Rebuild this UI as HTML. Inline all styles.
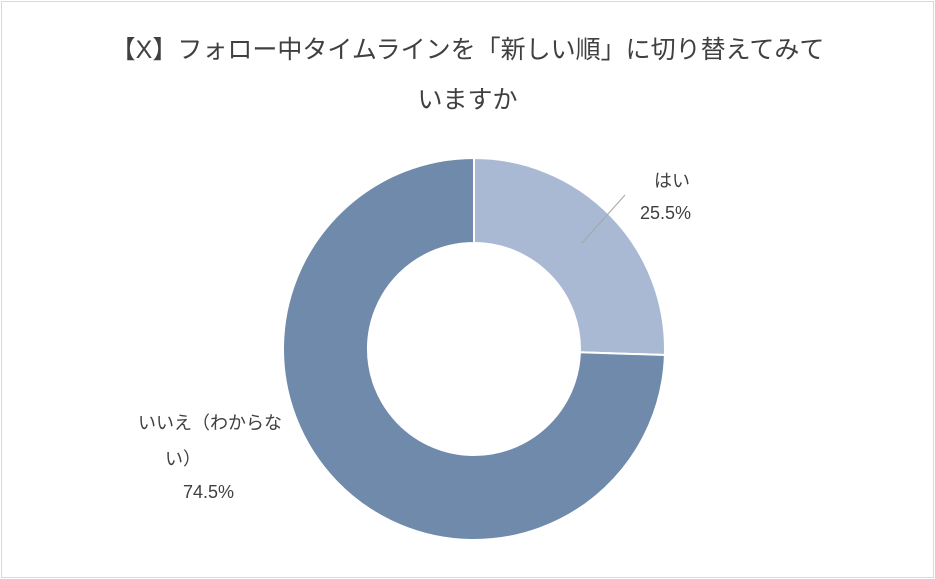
<!DOCTYPE html>
<html><head><meta charset="utf-8"><style>
body{margin:0;background:#fff;}
.wrap{position:relative;width:935px;height:579px;overflow:hidden;font-family:"Liberation Sans","Noto Sans CJK JP",sans-serif;}
.frame{position:absolute;left:1px;top:1px;width:931px;height:575px;border:1px solid #d9d9d9;}
.t{position:absolute;color:#404040;white-space:nowrap;}
</style></head><body><div class="wrap">
<div class="frame"></div>
<div class="t" style="left:0;width:935px;text-align:center;top:30px;font-size:25px;">【X】フォロー中タイムラインを「新しい順」に切り替えてみて</div>
<div class="t" style="left:0;width:935px;text-align:center;top:80px;font-size:25px;">いますか</div>
<svg width="935" height="579" style="position:absolute;left:0;top:0">
<path d="M474,158 A191,191 0 0 1 664.9,355 L579.9,352.3 A106,106 0 0 0 474,243 Z" fill="#a9b9d4" stroke="#fff" stroke-width="2"/>
<path d="M664.9,355 A191,191 0 1 1 474,158 L474,243 A106,106 0 1 0 579.9,352.3 Z" fill="#6f8aab" stroke="#fff" stroke-width="2"/>
<line x1="582" y1="243" x2="625" y2="195" stroke="#a6a6a6" stroke-width="1"/>
</svg>
<div class="t" style="left:654px;top:167px;font-size:18px;">はい</div>
<div class="t" style="left:640px;top:203px;font-size:18px;">25.5%</div>
<div class="t" style="left:138px;top:409px;font-size:18px;">いいえ（わからな</div>
<div class="t" style="left:165px;top:445px;font-size:18px;">い）</div>
<div class="t" style="left:183px;top:482px;font-size:18px;">74.5%</div>
</div></body></html>
